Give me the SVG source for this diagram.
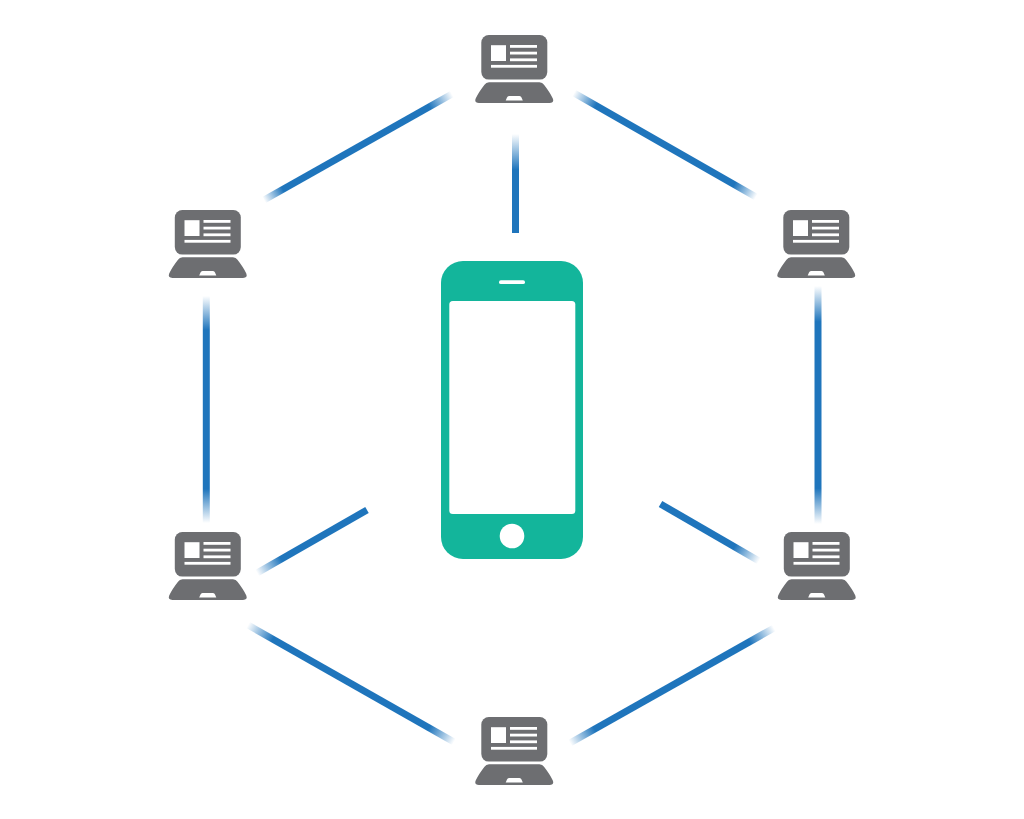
<svg xmlns="http://www.w3.org/2000/svg" width="1024" height="819" viewBox="0 0 1024 819">
<style>
.g{fill:#6d6e71}.w{fill:#fff}.t{fill:#13b59b}
.c{fill:none;stroke-width:7}
</style>
<defs>
<g id="laptop">
<rect class="g" x="481.300" y="35" width="66" height="44.600" rx="7.500"/>
<rect class="w" x="491" y="45.200" width="15" height="15.800"/>
<rect class="w" x="510" y="45" width="27" height="2.800"/>
<rect class="w" x="510" y="51.700" width="27" height="2.800"/>
<rect class="w" x="510" y="58.400" width="27" height="2.800"/>
<rect class="w" x="491" y="64.900" width="46" height="2.800"/>
<path class="g" d="M489 82.200H539.500Q542.500 82.200 544 84.800Q550 92.500 552.800 98.500Q554.500 102.800 549.500 102.900H479Q474 102.800 475.700 98.500Q478.500 92.500 484.500 84.800Q486 82.200 489 82.200Z"/>
<path class="w" d="M509 96H519.500Q521 96 521.500 97.500L522.800 100.600H505.700L507 97.500Q507.500 96 509 96Z"/>
</g>
<linearGradient id="l1" gradientUnits="userSpaceOnUse" x1="452" y1="94" x2="264" y2="200"><stop offset="0" stop-color="#fff"/><stop offset=".12" stop-color="#1f75bc"/><stop offset=".9" stop-color="#1f75bc"/><stop offset="1" stop-color="#fff"/></linearGradient>
<linearGradient id="l2" gradientUnits="userSpaceOnUse" x1="574" y1="93" x2="756" y2="197"><stop offset="0" stop-color="#fff"/><stop offset=".12" stop-color="#1f75bc"/><stop offset=".88" stop-color="#1f75bc"/><stop offset="1" stop-color="#fff"/></linearGradient>
<linearGradient id="l3" gradientUnits="userSpaceOnUse" x1="0" y1="296" x2="0" y2="523"><stop offset="0" stop-color="#fff"/><stop offset=".15" stop-color="#1f75bc"/><stop offset=".85" stop-color="#1f75bc"/><stop offset="1" stop-color="#fff"/></linearGradient>
<linearGradient id="l4" gradientUnits="userSpaceOnUse" x1="0" y1="286" x2="0" y2="524"><stop offset="0" stop-color="#fff"/><stop offset=".15" stop-color="#1f75bc"/><stop offset=".85" stop-color="#1f75bc"/><stop offset="1" stop-color="#fff"/></linearGradient>
<linearGradient id="l5" gradientUnits="userSpaceOnUse" x1="366" y1="510" x2="257" y2="573"><stop offset="0" stop-color="#1f75bc"/><stop offset=".78" stop-color="#1f75bc"/><stop offset="1" stop-color="#fff"/></linearGradient>
<linearGradient id="l6" gradientUnits="userSpaceOnUse" x1="661" y1="504" x2="759" y2="561"><stop offset="0" stop-color="#1f75bc"/><stop offset=".75" stop-color="#1f75bc"/><stop offset="1" stop-color="#fff"/></linearGradient>
<linearGradient id="l7" gradientUnits="userSpaceOnUse" x1="248" y1="625" x2="454" y2="742"><stop offset="0" stop-color="#fff"/><stop offset=".12" stop-color="#1f75bc"/><stop offset=".88" stop-color="#1f75bc"/><stop offset="1" stop-color="#fff"/></linearGradient>
<linearGradient id="l8" gradientUnits="userSpaceOnUse" x1="774" y1="628" x2="570" y2="743"><stop offset="0" stop-color="#fff"/><stop offset=".12" stop-color="#1f75bc"/><stop offset=".88" stop-color="#1f75bc"/><stop offset="1" stop-color="#fff"/></linearGradient>
<linearGradient id="l9" gradientUnits="userSpaceOnUse" x1="0" y1="134" x2="0" y2="233"><stop offset="0" stop-color="#fff"/><stop offset=".36" stop-color="#1f75bc"/></linearGradient>
</defs>
<rect width="1024" height="819" fill="#fff"/>
<g id="connectors">
<path class="c" stroke="url(#l9)" d="M515.500 134V233"/>
<path class="c" stroke="url(#l1)" d="M452 94L264 200"/>
<path class="c" stroke="url(#l2)" d="M574 93L756 197"/>
<path class="c" stroke="url(#l3)" d="M206.300 296V523"/>
<path class="c" stroke="url(#l4)" d="M818 286V524"/>
<path class="c" stroke="url(#l5)" d="M367 510L257 573"/>
<path class="c" stroke="url(#l6)" d="M660.500 504L759 561"/>
<path class="c" stroke="url(#l7)" d="M248 625L454 742"/>
<path class="c" stroke="url(#l8)" d="M774 628L570 743"/>
</g>
<g id="phone">
<rect class="t" x="441" y="261" width="142" height="298" rx="22"/>
<rect class="w" x="449.300" y="301" width="126" height="213" rx="3.500"/>
<rect class="w" x="499" y="280.300" width="26" height="3.800" rx="1.900"/>
<circle class="w" cx="512" cy="536" r="12.300"/>
</g>
<g id="laptop-top"><use href="#laptop"/></g>
<g id="laptop-upper-left"><use href="#laptop" x="-306.500" y="175"/></g>
<g id="laptop-upper-right"><use href="#laptop" x="302" y="175"/></g>
<g id="laptop-lower-left"><use href="#laptop" x="-306.500" y="497"/></g>
<g id="laptop-lower-right"><use href="#laptop" x="302.500" y="497"/></g>
<g id="laptop-bottom"><use href="#laptop" y="682"/></g>
</svg>
